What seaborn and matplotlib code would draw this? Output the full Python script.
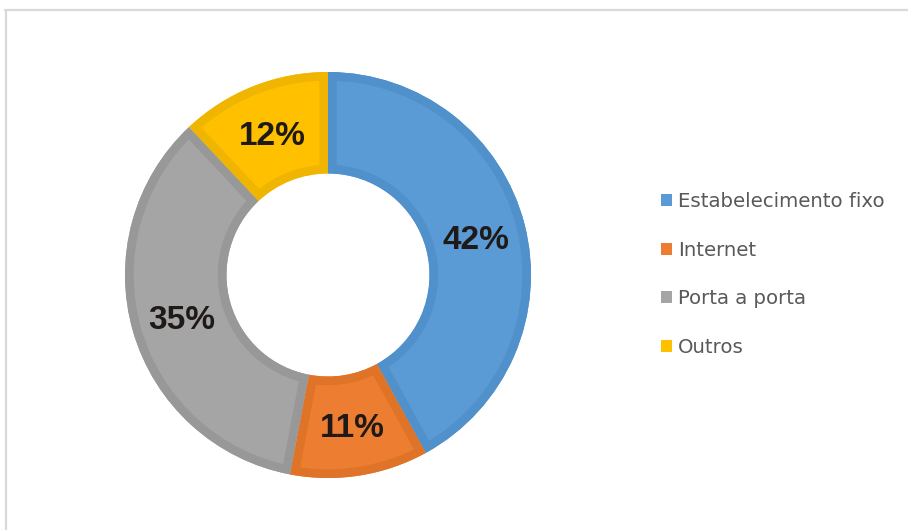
import matplotlib
matplotlib.use("Agg")
import matplotlib.pyplot as plt
from matplotlib.lines import Line2D
from matplotlib.patches import Patch, Wedge
import numpy as np
import seaborn as sns

# Canais de venda (%)
categorias = ["Estabelecimento fixo", "Internet", "Porta a porta", "Outros"]
valores = [42, 11, 35, 12]
rotulos = ["42%", "11%", "35%", "12%"]

sns.set_style("white")
plt.rcParams["font.family"] = ["Liberation Sans", "DejaVu Sans"]

cores = sns.color_palette(["#5B9BD5", "#ED7D31", "#A5A5A5", "#FFC000"])
bordas = ["#5090CB", "#DF7328", "#989898", "#F0B500"]

W, H = 908, 530
fig = plt.figure(figsize=(W / 100, H / 100), dpi=100)
fig.patch.set_facecolor("white")

cx, cy, R = 328, 275, 203
ax = fig.add_axes([(cx - R) / W, (H - cy - R) / H, 2 * R / W, 2 * R / H])

largura = 0.5
wedges, _ = ax.pie(valores, colors=cores, startangle=90, counterclock=False,
                   radius=1.0, wedgeprops=dict(width=largura, linewidth=0))
ax.set_xlim(-1, 1)
ax.set_ylim(-1, 1)
ax.set_aspect("equal")
ax.axis("off")

# darker band just inside each segment's outline
for w, b in zip(wedges, bordas):
    contorno = Wedge(w.center, w.r, w.theta1, w.theta2, width=w.width,
                     facecolor="none", edgecolor=b, linewidth=12.5)
    ax.add_patch(contorno)
    contorno.set_clip_path(w)

# percentage labels at the middle of the ring
r_lab = 1.0 - largura / 2
for w, txt in zip(wedges, rotulos):
    ang = np.deg2rad((w.theta1 + w.theta2) / 2)
    ax.text(r_lab * np.cos(ang), r_lab * np.sin(ang), txt,
            ha="center", va="center_baseline", fontsize=24,
            fontweight="bold", color="#1f1a17")

handles = [Patch(facecolor=c, edgecolor="none") for c in cores]
fig.legend(handles, categorias, loc="center left",
           bbox_to_anchor=(643 / W, (H - 274.5) / H), frameon=False,
           handlelength=0.57, handleheight=0.57, handletextpad=0.3,
           labelspacing=1.5, labelcolor="#595959",
           prop={"family": ["DejaVu Sans"], "size": 14.2})

# light frame along the top and left edges
fig.add_artist(Line2D([5 / W, 1], [(H - 10) / H] * 2, color="#d9d9d9",
                      lw=1.6, transform=fig.transFigure))
fig.add_artist(Line2D([5.5 / W] * 2, [0, (H - 10) / H], color="#d9d9d9",
                      lw=1.6, transform=fig.transFigure))

fig.savefig("out.png", dpi=100, facecolor="white")
